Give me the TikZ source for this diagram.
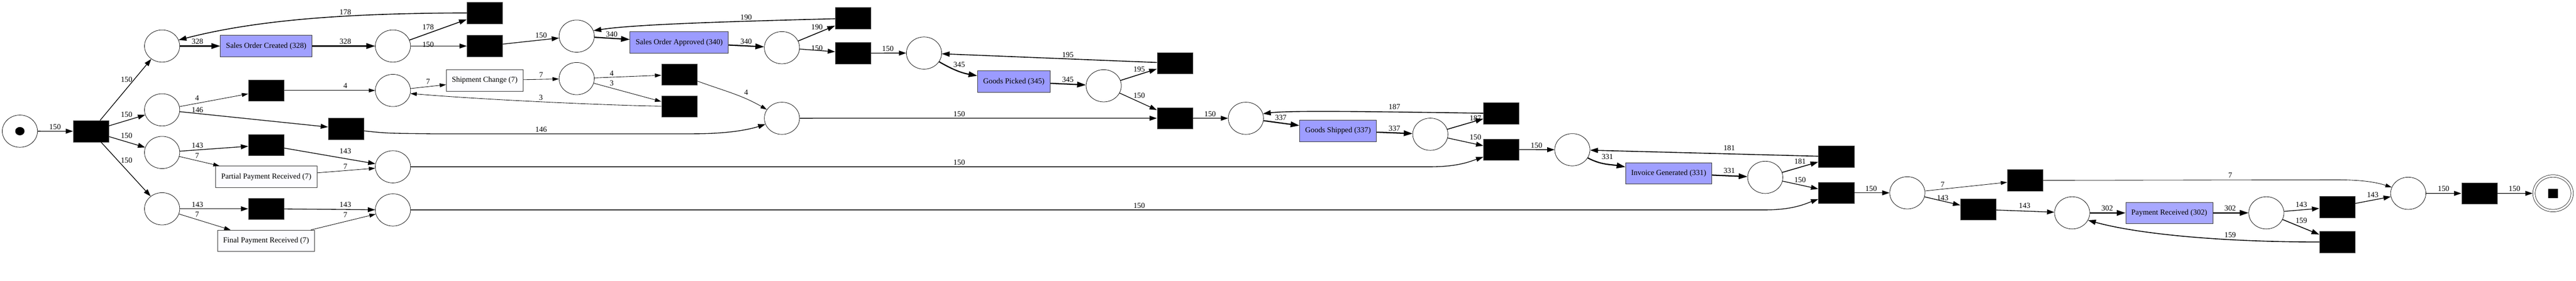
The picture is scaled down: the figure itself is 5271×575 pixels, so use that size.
\documentclass[tikz,border=0pt]{standalone}
\usepackage{fontspec}
\setmainfont{Liberation Serif}
\usepackage{tikz}
\usetikzlibrary{arrows.meta, shapes.geometric}
\definecolor{fA}{RGB}{160,160,255}
\definecolor{fB}{RGB}{156,156,255}
\definecolor{fC}{RGB}{155,155,255}
\definecolor{fD}{RGB}{157,157,255}
\definecolor{fE}{RGB}{159,159,255}
\definecolor{fF}{RGB}{168,168,255}
\definecolor{rare}{RGB}{252,252,255}
\newcommand{\netfont}{\fontsize{15.7}{18}\selectfont}

\begin{document}
\begin{tikzpicture}[x=1pt, y=-1pt,
		place/.style={draw, ellipse, minimum width=72pt, minimum height=66pt, inner sep=0pt, line width=0.8pt},
		trans/.style={draw=black!65, fill=black, minimum width=73pt, minimum height=44pt, inner sep=0pt, line width=0.6pt},
		act/.style={draw=black!80, line width=0.8pt, minimum height=44pt, inner xsep=11.5pt, font=\netfont},
		lbl/.style={font=\netfont, inner sep=0pt},
		arcS/.style={line width=0.9pt, -{Triangle[length=13pt, width=8pt]}},
		arcM/.style={line width=1.4pt, -{Triangle[length=15pt, width=10pt]}},
		arcL/.style={line width=1.7pt, -{Triangle[length=16pt, width=10.5pt]}},
		arcXL/.style={line width=2.4pt, -{Triangle[length=18pt, width=11.5pt]}}]
		\useasboundingbox (0,0) rectangle (5271,575);
		\foreach \n/\x/\y in {src/40.7/268.7, pA0/331.7/94.3, pS0/331.7/225, pP0/331.7/312.3, pF0/331.7/427.7,
			pA1/804/94.3, pS1/804/185.3, pP1/804/341.7, pF1/804/430, pA2/1180/74, pS2/1180/161,
			pA3/1600/97.7, pS3/1600/242.3, pB0/1890.7/108.7, pB1/2258.3/175.7, pC0/2549.3/242.3,
			pC1/2926.7/275, pD0/3217.3/306.7, pD1/3612/363.3, pE0/3902.7/395, pE1/4240/436,
			pE2/4637.3/436, pFin/4927.7/396}
			\node[place] (\n) at (\x,\y) {};
		\node[place, double, double distance=4pt, minimum width=78pt, minimum height=71pt, outer sep=2.8pt] (sink) at (5224,396) {};
		\node[ellipse, fill, minimum width=19pt, minimum height=17pt, inner sep=0pt] (srcTok) at (src) {};
		\node[fill, minimum width=21pt, minimum height=19pt, inner sep=0pt] (sinkTok) at (sink) {};
		\foreach \n/\x/\y in {tStart/186.3/268.8, tLoopA/992/26.5, tA/992/94.3, tShip4/544.7/185.3,
			tShip146/708/264, tPP/544.7/297, tFP/544.7/427.7, tLoopB/1745.5/37.5, tB/1745.5/108.8,
			tRet4/1390/152.7, tRet3/1390/218, tLoopC/2404/129.5, tSyncC/2404/242.2, tLoopD/3072/232.5,
			tSyncD/3072/306.5, tLoopE/3757.3/321, tSyncE/3757.3/395, tSkip/4143.8/369.5,
			tPay/4047.8/428.8, tF/4782.5/423.8, tLoopF/4782.5/495.5, tEnd/5073.2/396.2}
			\node[trans] (\n) at (\x,\y) {};
		\node[act, fill=fA] (soc) at (544.7,94.3) {Sales Order Created (328)};
		\node[act, fill=fB] (soa) at (1389.8,87.2) {Sales Order Approved (340)};
		\node[act, fill=rare] (sc) at (991.8,164.8) {Shipment Change (7)};
		\node[act, fill=rare] (ppr) at (544.8,362.3) {Partial Payment Received (7)};
		\node[act, fill=rare] (fpr) at (544.5,493.3) {Final Payment Received (7)};
		\node[act, fill=fC] (gp) at (2074.5,167.2) {Goods Picked (345)};
		\node[act, fill=fD] (gs) at (2737.8,267.8) {Goods Shipped (337)};
		\node[act, fill=fE] (ig) at (3414.5,355) {Invoice Generated (331)};
		\node[act, fill=fF] (pr) at (4438.7,436.3) {Payment Received (302)};

		\foreach \a/\b/\lx/\ly/\t in {pS0/tShip4/403.3/201/4, tShip4/pS1/706.7/176/4, pS1/sc/876/167.7/7,
			sc/pS2/1107.3/153.3/7, pS2/tRet4/1251.7/150/4, pS2/tRet3/1251.7/170.7/3, pP0/ppr/403.3/319.3/7,
			ppr/pP1/706.7/341/7, pF0/fpr/403.3/439.3/7, fpr/pF1/706.7/440.7/7, pE0/tSkip/3975/377.7/7}
			\draw[arcS] (\a) -- (\b) node[lbl] at (\lx,\ly) {\t};
		\foreach \a/\b/\lx/\ly/\t in {src/tStart/112.7/260/150, tStart/pA0/259/163.3/150, tStart/pS0/259/234.3/150,
			tStart/pP0/259/277.7/150, tStart/pF0/259/329/150, pA1/tA/876/91/150, tA/pA2/1107.3/72.3/150,
			pA3/tB/1671.7/98.7/150, tB/pB0/1816.7/99.3/150, pB1/tSyncC/2331/196/150, pS0/tShip146/404/225.3/146,
			pS3/tSyncC/1962.7/233.3/150, tSyncC/pC0/2476/233.3/150, pC1/tSyncD/3019/280.7/150,
			pP0/tPP/404/297.7/143, tPP/pP1/706.7/310/143, pF0/tFP/404/419/143, tFP/pF1/706.7/419.3/143,
			tSyncD/pD0/3144/297.7/150, pD1/tSyncE/3683.3/368.3/150, tSyncE/pE0/3828.7/386/150,
			pE0/tPay/3975/405/143, tPay/pE1/4142.7/421.7/143, pE2/tF/4709/419.3/143, tF/pFin/4855/399.3/143,
			pFin/tEnd/5000/386.7/150, tEnd/sink/5145/386.7/150}
			\draw[arcM] (\a) -- (\b) node[lbl] at (\lx,\ly) {\t};
		\foreach \a/\b/\lx/\ly/\t in {pA1/tLoopA/876/55.7/178, pA3/tLoopB/1671.7/55/190, pB1/tLoopC/2331/141.7/195,
			tLoopC/pB0/2185/112.3/195, pC1/tLoopD/3019/241.7/187, pD1/tLoopE/3683.3/330.7/181,
			tLoopE/pD0/3538.3/303.3/181, pE2/tLoopF/4709/452.3/159}
			\draw[arcL] (\a) -- (\b) node[lbl] at (\lx,\ly) {\t};
		\foreach \a/\b/\lx/\ly/\t in {pA0/soc/404/85/328, soc/pA1/706.7/85/328, pA2/soa/1251.7/70/340,
			soa/pA3/1526.7/85/340, gp/pB1/2185/163.3/345, pC0/gs/2620.7/240.7/337, gs/pC1/2853.3/262.7/337,
			ig/pD1/3538.3/350/331, pE1/pr/4311.7/426.7/302, pr/pE2/4563.3/426.7/302}
			\draw[arcXL] (\a) -- (\b) node[lbl] at (\lx,\ly) {\t};

		\draw[arcL] (tLoopA) .. controls (700,27) and (520,42) .. (pA0.20) node[lbl] at (706.7,25) {178};
		\draw[arcL] (tLoopB) .. controls (1450,45) and (1290,51) .. (pA2.18) node[lbl] at (1526.7,35.7) {190};
		\draw[arcL] (tLoopD) .. controls (2800,228.5) and (2640,226) .. (pC0.15) node[lbl] at (2853.3,219) {187};
		\draw[arcL] (tLoopF) .. controls (4560,496) and (4380,481) .. (pE1.-25) node[lbl] at (4563.3,481) {159};
		\draw[arcS] (tRet3) .. controls (1250,216) and (1000,205) .. (pS1.-10) node[lbl] at (1106.7,200) {3};
		\draw[arcS] (tRet4) to[out=-20, in=150] (pS3) node[lbl] at (1526.7,189) {4};
		\draw[arcS] (tSkip) -- (4780,368.3) .. controls (4845,368.3) and (4870,376) .. (pFin.160) node[lbl] at (4563.3,359.3) {7};
		\draw[arcM] (tShip146) .. controls (790,273) .. (880,274) -- (1420,274) .. controls (1500,274) and (1540,263) .. (pS3.200) node[lbl] at (1107.3,265) {146};
		\draw[arcM] (pP1) -- (2925,341.7) .. controls (2985,341.7) and (3010,330) .. ([yshift=-15pt]tSyncD.west) node[lbl] at (1962.7,332.3) {150};
		\draw[arcM] (pF1) -- (3610,430) .. controls (3670,430) and (3695,417) .. ([yshift=-13pt]tSyncE.west) node[lbl] at (2331,421.7) {150};
		\draw[arcXL] (pB0) to[out=-30, in=170] ([yshift=12pt]gp.west) node[lbl] at (1962.7,132.3) {345};
		\draw[arcXL] (pD0) to[out=-28, in=170] ([yshift=13pt]ig.west) node[lbl] at (3289,320.7) {331};
	\end{tikzpicture}
\end{document}
